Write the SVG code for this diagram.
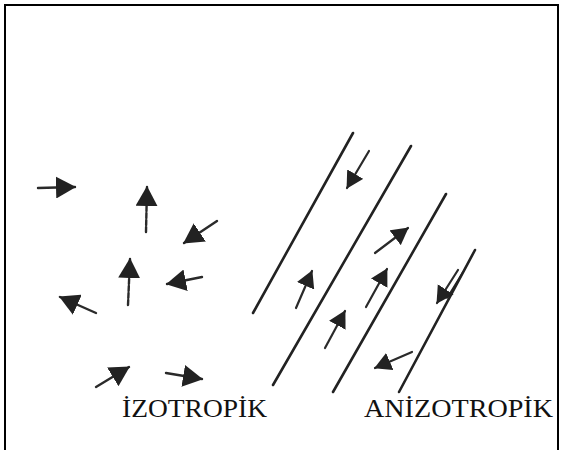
<svg xmlns="http://www.w3.org/2000/svg" width="563" height="450" viewBox="0 0 563 450">
<style>
.frame{fill:none;stroke:#000;stroke-width:2}
.ln{stroke:#222;stroke-width:2.6;stroke-linecap:round;fill:none}
.ar{stroke:#2a2a2a;stroke-width:2.4;stroke-linecap:round;fill:none;marker-end:url(#h)}
.ars{stroke:#2a2a2a;stroke-width:2.2;stroke-linecap:round;fill:none;marker-end:url(#hs)}
.dash{stroke-dasharray:5 2}
.lbl{font-family:"Liberation Serif","Times New Roman",serif;font-size:25px;fill:#111}
</style>
<defs>
<marker id="h" viewBox="0 0 20 22" markerUnits="userSpaceOnUse" markerWidth="20" markerHeight="22" refX="19" refY="11" orient="auto">
<path d="M0,0 L20,11 L0,22 z" fill="#222"/>
</marker>
<marker id="hs" viewBox="0 0 20 22" markerUnits="userSpaceOnUse" markerWidth="17" markerHeight="19" refX="19" refY="11" orient="auto">
<path d="M0,0 L20,11 L0,22 z" fill="#222"/>
</marker>
</defs>
<rect class="frame" x="5" y="5" width="553" height="460" fill="#fff"/>
<g id="isotropic">
<line class="ar" x1="38" y1="188" x2="75" y2="187"/>
<line class="ar dash" x1="146" y1="232" x2="147" y2="187"/>
<line class="ar" x1="217" y1="221" x2="184" y2="243"/>
<line class="ar dash" x1="128" y1="305" x2="130" y2="259"/>
<line class="ar" x1="202" y1="277" x2="167" y2="284"/>
<line class="ar" x1="96" y1="313" x2="60" y2="297"/>
<line class="ar" x1="96" y1="387" x2="129" y2="367"/>
<line class="ar" x1="166" y1="373" x2="202" y2="379"/>
</g>
<g id="anisotropic">
<g id="domain-lines">
<line class="ln" x1="353" y1="133" x2="253" y2="313"/>
<line class="ln" x1="411" y1="146" x2="273" y2="385"/>
<line class="ln" x1="446" y1="194" x2="333" y2="392"/>
<line class="ln" x1="475" y1="250" x2="399" y2="392"/>
</g>
<line class="ars" x1="369" y1="151" x2="347" y2="188"/>
<line class="ars" x1="375" y1="253" x2="408" y2="228"/>
<line class="ars" x1="296" y1="308" x2="312" y2="271"/>
<line class="ars" x1="366" y1="307" x2="387" y2="269"/>
<line class="ars" x1="325" y1="348" x2="345" y2="311"/>
<line class="ars" x1="412" y1="352" x2="375" y2="368"/>
<line class="ars" x1="458" y1="270" x2="437" y2="303"/>
<line class="ln" x1="463" y1="272" x2="447" y2="298" style="stroke-width:1.6"/>
</g>
<g id="labels">
<text class="lbl" x="122" y="417" textLength="145" lengthAdjust="spacingAndGlyphs">İZOTROPİK</text>
<text class="lbl" x="364" y="417" textLength="189" lengthAdjust="spacingAndGlyphs">ANİZOTROPİK</text>
</g>
</svg>
